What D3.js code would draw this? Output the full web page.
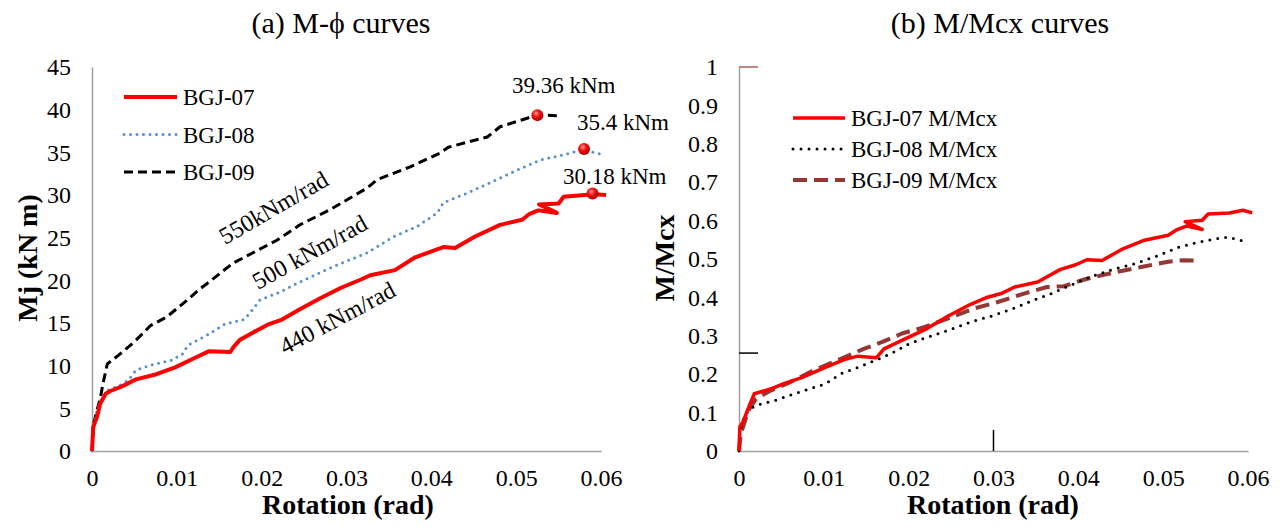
<!DOCTYPE html>
<html>
<head>
<meta charset="utf-8">
<script src="https://cdn.jsdelivr.net/npm/d3@7"></script>
<style>
  body { margin: 0; background: #fff; }
  svg { display: block; }
  svg text { font-family: "Liberation Serif", "Times New Roman", serif; fill: #000; }
</style>
</head>
<body>
<script>
const width = 1281;
const height = 527;

// (a) M-phi curves, [rotation, moment kNm]
const bgj07 = [[0,0],[0.00014,2.8],[0.0006,4.0],[0.00095,5.5],[0.0016,6.7],[0.0021,7.0],[0.0036,7.6],[0.0052,8.4],[0.0076,9.0],[0.0098,9.8],[0.0121,10.9],[0.0138,11.7],[0.0163,11.6],[0.0167,12.2],[0.0174,13.0],[0.019,13.9],[0.0207,14.8],[0.0224,15.4],[0.0245,16.6],[0.0269,17.9],[0.0293,19.1],[0.0317,20.1],[0.0328,20.6],[0.0357,21.2],[0.0381,22.7],[0.0414,23.9],[0.0428,23.8],[0.0451,25.1],[0.0481,26.5],[0.0507,27.1],[0.0516,27.8],[0.0526,28.2],[0.0548,27.9],[0.0527,28.9],[0.055,29.0],[0.0556,29.8],[0.0591,30.1],[0.0606,30.0]];
const bgj08 = [[0,0],[0.0001,2.4],[0.0005,4.4],[0.001,5.9],[0.0018,7.1],[0.0031,7.6],[0.0043,8.3],[0.0052,9.5],[0.0074,10.2],[0.0093,10.6],[0.0107,11.4],[0.0113,12.4],[0.0136,13.6],[0.0157,14.9],[0.0179,15.4],[0.0188,16.4],[0.0198,17.7],[0.0221,18.6],[0.0245,19.8],[0.0284,21.6],[0.0324,23.2],[0.0355,25.1],[0.0383,26.3],[0.0407,27.9],[0.0414,29.1],[0.0442,30.2],[0.0477,31.8],[0.0501,32.9],[0.0528,34.1],[0.0555,34.7],[0.0579,35.3],[0.0599,34.8]];
const bgj09 = [[0,0],[0.0002,3.2],[0.0006,4.8],[0.001,6.3],[0.0013,7.9],[0.0018,10.2],[0.0031,11.2],[0.005,12.8],[0.0069,14.7],[0.0088,15.7],[0.011,17.5],[0.0126,18.9],[0.0138,19.8],[0.0166,22.0],[0.0218,24.7],[0.0245,26.5],[0.0281,28.3],[0.0324,30.8],[0.0336,31.8],[0.0375,33.3],[0.041,34.9],[0.042,35.6],[0.0466,36.8],[0.0481,38.0],[0.0513,39.0],[0.0526,39.4],[0.0548,39.3]];
const peaks = [[0.0525,39.36],[0.058,35.4],[0.059,30.18]];
const peakLabels = ['39.36 kNm', '35.4 kNm', '30.18 kNm'];
const stiffLabels = ['550kNm/rad', '500 kNm/rad', '440 kNm/rad'];

// (b) M/Mcx curves, [rotation, ratio]
const ratio07 = [[0,0],[0.0001,0.0625],[0.00045,0.075],[0.001,0.106],[0.0018,0.149],[0.0038,0.162],[0.0052,0.175],[0.0074,0.191],[0.0101,0.217],[0.0124,0.238],[0.014,0.247],[0.0162,0.243],[0.0171,0.266],[0.0192,0.288],[0.0219,0.316],[0.0246,0.351],[0.0273,0.382],[0.0291,0.399],[0.0309,0.41],[0.0325,0.427],[0.0352,0.44],[0.0379,0.473],[0.0397,0.485],[0.041,0.498],[0.0428,0.496],[0.0451,0.525],[0.0478,0.549],[0.0506,0.562],[0.0515,0.575],[0.0528,0.586],[0.0546,0.577],[0.0526,0.597],[0.0546,0.601],[0.0553,0.617],[0.0578,0.62],[0.0594,0.627],[0.0605,0.62]];
const ratio08 = [[0,0],[0.0001,0.045],[0.00045,0.08],[0.0011,0.106],[0.002,0.119],[0.0043,0.132],[0.0065,0.149],[0.0102,0.175],[0.012,0.201],[0.0142,0.219],[0.0165,0.24],[0.0183,0.258],[0.0201,0.28],[0.0223,0.297],[0.0246,0.314],[0.0273,0.336],[0.03,0.353],[0.0323,0.371],[0.0345,0.391],[0.0368,0.41],[0.0391,0.432],[0.0413,0.452],[0.0438,0.471],[0.0465,0.487],[0.0492,0.507],[0.0519,0.531],[0.0542,0.544],[0.0564,0.553],[0.0576,0.557],[0.0596,0.546]];
const ratio09 = [[0,0],[0.0002,0.045],[0.0006,0.071],[0.0011,0.106],[0.002,0.136],[0.0038,0.158],[0.0061,0.18],[0.0088,0.21],[0.012,0.24],[0.0147,0.266],[0.0169,0.284],[0.0192,0.306],[0.0219,0.323],[0.0246,0.345],[0.0277,0.371],[0.0305,0.388],[0.0336,0.41],[0.0363,0.427],[0.0383,0.429],[0.0406,0.446],[0.0438,0.463],[0.0474,0.479],[0.0506,0.493],[0.0524,0.497],[0.0544,0.495]];

const xTicks = [0, 0.01, 0.02, 0.03, 0.04, 0.05, 0.06];
const yTicksA = [0, 5, 10, 15, 20, 25, 30, 35, 40, 45];
const yTicksB = [0, 0.1, 0.2, 0.3, 0.4, 0.5, 0.6, 0.7, 0.8, 0.9, 1];

const serif = '"Liberation Serif", "Times New Roman", serif';

const svg = d3.select('body').append('svg')
    .attr('width', width)
    .attr('height', height);

const defs = svg.append('defs');
const grad = defs.append('radialGradient')
    .attr('id', 'dot-grad')
    .attr('cx', '40%').attr('cy', '35%').attr('r', '65%');
grad.append('stop').attr('offset', '0%').attr('stop-color', '#ff9a9a');
grad.append('stop').attr('offset', '45%').attr('stop-color', '#f01010');
grad.append('stop').attr('offset', '100%').attr('stop-color', '#b00000');

function draw_axes(g, x, y, yTicks, yFmt) {
    const xAxis = d3.axisBottom(x).tickValues(xTicks).tickSize(0).tickPadding(18)
        .tickFormat((d) => d === 0 ? '0' : d3.format('.2f')(d));
    const yAxis = d3.axisLeft(y).tickValues(yTicks).tickSize(0).tickPadding(21)
        .tickFormat(yFmt);
    g.append('g').attr('transform', `translate(0,${y(0)})`).call(xAxis);
    g.append('g').attr('transform', `translate(${x(0)},0)`).call(yAxis);
    g.selectAll('.domain').attr('stroke', '#a0a0a0').attr('stroke-width', 1.5);
    g.selectAll('.tick text')
        .style('font-family', serif)
        .style('font-size', '24px')
        .attr('fill', '#000');
}

function draw_line(g, x, y, data, color, w, dash) {
    const line = d3.line().x((d) => x(d[0])).y((d) => y(d[1]));
    g.append('path')
        .datum(data)
        .attr('d', line)
        .attr('fill', 'none')
        .attr('stroke', color)
        .attr('stroke-width', w)
        .attr('stroke-linejoin', 'round')
        .attr('stroke-linecap', dash && dash.startsWith('0') ? 'round' : 'butt')
        .attr('stroke-dasharray', dash || null);
}

function draw_legend(g, items, x0, y0, step, len) {
    items.forEach((it, i) => {
        const yy = y0 + i * step;
        g.append('line')
            .attr('x1', x0).attr('x2', x0 + len)
            .attr('y1', yy).attr('y2', yy)
            .attr('stroke', it.color)
            .attr('stroke-width', it.w)
            .attr('stroke-linecap', it.dash && it.dash.startsWith('0') ? 'round' : 'butt')
            .attr('stroke-dasharray', it.dash || null);
        g.append('text')
            .attr('x', x0 + len + 6)
            .attr('y', yy)
            .attr('dy', '0.35em')
            .style('font-size', '23px')
            .text(it.name);
    });
}

// ---- chart (a)
const gA = svg.append('g');
const xA = d3.scaleLinear().domain([0, 0.06]).range([92, 601]);
const yA = d3.scaleLinear().domain([0, 45]).range([451, 67]);
draw_axes(gA, xA, yA, yTicksA, d3.format('d'));

draw_line(gA, xA, yA, bgj09, '#000', 3, '9,5');
draw_line(gA, xA, yA, bgj08, '#558ed5', 3, '0,6.5');
draw_line(gA, xA, yA, bgj07, '#ff0000', 4);

gA.selectAll('.peak')
    .data(peaks)
    .enter()
    .append('circle')
        .attr('class', 'peak')
        .attr('cx', (d) => xA(d[0]))
        .attr('cy', (d) => yA(d[1]))
        .attr('r', 6)
        .attr('fill', 'url(#dot-grad)');

const peakPos = [[512, 93], [577, 130], [563, 184]];
gA.selectAll('.peak-label')
    .data(peakLabels)
    .enter()
    .append('text')
        .attr('class', 'peak-label')
        .attr('x', (d, i) => peakPos[i][0])
        .attr('y', (d, i) => peakPos[i][1])
        .style('font-size', '23px')
        .text((d) => d);

const stiffPos = [[225, 245, -30], [258, 290, -29], [285, 355, -28]];
gA.selectAll('.stiff-label')
    .data(stiffLabels)
    .enter()
    .append('text')
        .attr('class', 'stiff-label')
        .attr('transform', (d, i) => `translate(${stiffPos[i][0]},${stiffPos[i][1]}) rotate(${stiffPos[i][2]})`)
        .style('font-size', '24px')
        .text((d) => d);

draw_legend(gA, [
    { name: 'BGJ-07', color: '#ff0000', w: 4 },
    { name: 'BGJ-08', color: '#558ed5', w: 3, dash: '0,6.5' },
    { name: 'BGJ-09', color: '#000', w: 3, dash: '9,5' }
], 124, 97, 37.5, 53);

gA.append('text')
    .attr('x', 341).attr('y', 33)
    .attr('text-anchor', 'middle')
    .style('font-size', '30px')
    .text('(a) M-\u03d5 curves');
gA.append('text')
    .attr('x', 348).attr('y', 514)
    .attr('text-anchor', 'middle')
    .style('font-size', '28px').style('font-weight', 'bold')
    .text('Rotation (rad)');
gA.append('text')
    .attr('transform', 'translate(37,258) rotate(-90)')
    .attr('text-anchor', 'middle')
    .style('font-size', '28px').style('font-weight', 'bold')
    .text('Mj (kN m)');

// ---- chart (b)
const gB = svg.append('g');
const xB = d3.scaleLinear().domain([0, 0.06]).range([739, 1248]);
const yB = d3.scaleLinear().domain([0, 1]).range([451, 67]);
draw_axes(gB, xB, yB, yTicksB, (d) => d === 0 ? '0' : d === 1 ? '1' : d3.format('.1f')(d));

// stray marks left in the original plot area
gB.append('line').attr('x1', xB(0)).attr('x2', xB(0) + 19).attr('y1', yB(1)).attr('y2', yB(1))
    .attr('stroke', '#953735').attr('stroke-width', 1.2);
gB.append('line').attr('x1', xB(0)).attr('x2', xB(0) + 19).attr('y1', yB(0.255)).attr('y2', yB(0.255))
    .attr('stroke', '#000').attr('stroke-width', 1.5);
gB.append('line').attr('x1', xB(0.03)).attr('x2', xB(0.03)).attr('y1', yB(0)).attr('y2', yB(0.055))
    .attr('stroke', '#000').attr('stroke-width', 1.5);

draw_line(gB, xB, yB, ratio09, '#953735', 4, '14,7');
draw_line(gB, xB, yB, ratio08, '#000', 3, '0,8');
draw_line(gB, xB, yB, ratio07, '#ff0000', 3.5);

draw_legend(gB, [
    { name: 'BGJ-07 M/Mcx', color: '#ff0000', w: 3.5 },
    { name: 'BGJ-08 M/Mcx', color: '#000', w: 3, dash: '0,8' },
    { name: 'BGJ-09 M/Mcx', color: '#953735', w: 4, dash: '14,7' }
], 793, 118, 31, 52);

gB.append('text')
    .attr('x', 1000).attr('y', 33)
    .attr('text-anchor', 'middle')
    .style('font-size', '30px')
    .text('(b) M/Mcx curves');
gB.append('text')
    .attr('x', 993).attr('y', 514)
    .attr('text-anchor', 'middle')
    .style('font-size', '28px').style('font-weight', 'bold')
    .text('Rotation (rad)');
gB.append('text')
    .attr('transform', 'translate(674,258) rotate(-90)')
    .attr('text-anchor', 'middle')
    .style('font-size', '28px').style('font-weight', 'bold')
    .text('M/Mcx');
</script>
</body>
</html>
